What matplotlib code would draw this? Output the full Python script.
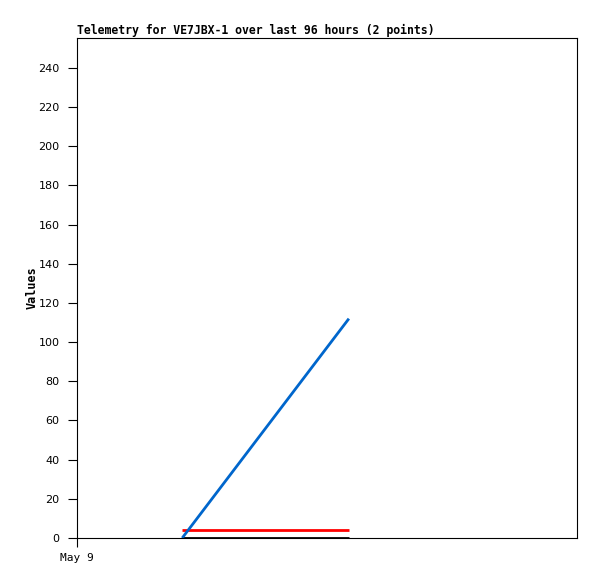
import matplotlib
matplotlib.use("Agg")
import matplotlib.pyplot as plt

# hours since May 9 00:00
hours = [20.2, 52.2]
blue_vals = [0, 112]
red_vals = [4, 4]
black_vals = [0, 0]
tick_hours = [0]
tick_labels = ["May 9"]
y_ticks = list(range(0, 241, 20))

fig = plt.figure(figsize=(5.97, 5.79), dpi=100)
ax = fig.add_axes([77/597, 41/579, 500/597, 500/579])

ax.plot(hours, black_vals, color="black", lw=2, solid_capstyle="butt")
ax.plot(hours, red_vals, color="#ff0000", lw=2, solid_capstyle="butt")
ax.plot(hours, blue_vals, color="#0066cc", lw=2, solid_capstyle="butt")

ax.set_xlim(0, 96)
ax.set_ylim(0, 255.3)
ax.set_xticks(tick_hours)
ax.set_xticklabels(tick_labels, family="DejaVu Sans Mono", fontsize=8)
ax.set_yticks(y_ticks)
ax.set_yticklabels([str(v) for v in y_ticks], family="DejaVu Sans", fontsize=8)
ax.tick_params(axis="both", direction="out", length=6.5, width=0.8, pad=6)
ax.tick_params(axis="x", pad=4)

ax.set_ylabel("Values", family="DejaVu Sans Mono", fontweight="bold", fontsize=8.5, labelpad=0)
ax.set_title("Telemetry for VE7JBX-1 over last 96 hours (2 points)", loc="left",
             family="DejaVu Sans Mono", fontweight="bold", fontsize=8.3, pad=3)

fig.savefig("out.png", dpi=100)
